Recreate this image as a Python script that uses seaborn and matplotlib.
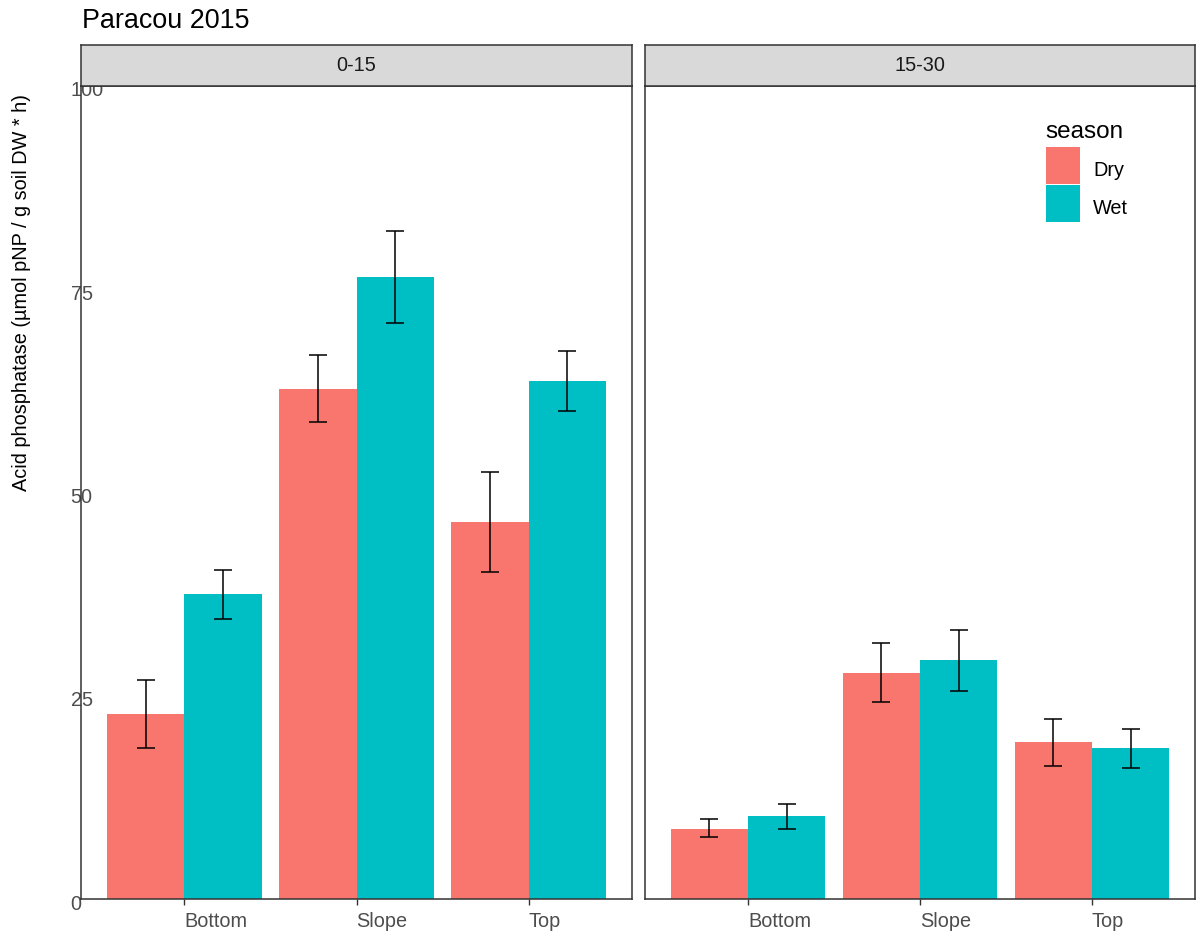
import matplotlib
matplotlib.use("Agg")
import matplotlib.pyplot as plt
import seaborn as sns
import pandas as pd
import numpy as np
from matplotlib.transforms import ScaledTranslation

# ---- data ----
positions = ["Bottom", "Slope", "Top"]
seasons = ["Dry", "Wet"]
depths = ["0-15", "15-30"]
dry_0_15 = [22.8, 62.7, 46.4]
wet_0_15 = [37.5, 76.5, 63.7]
dry_0_15_lo = [18.6, 58.7, 40.2]
dry_0_15_hi = [26.9, 66.9, 52.5]
wet_0_15_lo = [34.4, 70.8, 60.0]
wet_0_15_hi = [40.5, 82.2, 67.4]
dry_15_30 = [8.6, 27.8, 19.3]
wet_15_30 = [10.2, 29.4, 18.6]
dry_15_30_lo = [7.6, 24.2, 16.4]
dry_15_30_hi = [9.8, 31.5, 22.1]
wet_15_30_lo = [8.6, 25.6, 16.1]
wet_15_30_hi = [11.7, 33.1, 20.9]
y_ticks = [0, 25, 50, 75, 100]

rows = []
for depth, dv, wv, dlo, dhi, wlo, whi in [
    ("0-15", dry_0_15, wet_0_15, dry_0_15_lo, dry_0_15_hi, wet_0_15_lo, wet_0_15_hi),
    ("15-30", dry_15_30, wet_15_30, dry_15_30_lo, dry_15_30_hi, wet_15_30_lo, wet_15_30_hi),
]:
    for i, p in enumerate(positions):
        rows.append(dict(depth=depth, position=p, season="Dry", value=dv[i], lo=dlo[i], hi=dhi[i]))
        rows.append(dict(depth=depth, position=p, season="Wet", value=wv[i], lo=wlo[i], hi=whi[i]))
df = pd.DataFrame(rows)

sns.set_theme(style="white")
plt.rcParams["font.family"] = ["Liberation Sans", "DejaVu Sans"]

W, H = 1198, 934
fig = plt.figure(figsize=(W / 100, H / 100), dpi=100)
palette = {"Dry": "#F8766D", "Wet": "#00BFC4"}
FS = 14.3

def px_axes(l, t, r, b):
    return fig.add_axes([l / W, 1 - b / H, (r - l) / W, (b - t) / H])

panels = [(81, 632), (645, 1195)]
top, bottom = 86, 899
strip_top = 45
axes = []
for k, (depth, (l, r)) in enumerate(zip(depths, panels)):
    ax = px_axes(l, top, r, bottom)
    sub = df[df.depth == depth]
    sns.barplot(data=sub, x="position", y="value", hue="season", order=positions,
                hue_order=seasons, palette=palette, width=0.9, errorbar=None,
                saturation=1, ax=ax, legend=(k == 1), linewidth=0)
    # error bars from bar geometry
    for s_i, s in enumerate(seasons):
        cont = ax.containers[s_i]
        for j, patch in enumerate(cont.patches):
            rrow = sub[(sub.season == s) & (sub.position == positions[j])].iloc[0]
            xc = patch.get_x() + patch.get_width() / 2
            ax.errorbar([xc], [rrow.value],
                        yerr=[[rrow.value - rrow.lo], [rrow.hi - rrow.value]],
                        fmt="none", ecolor="black", elinewidth=1.1, capsize=6.5,
                        capthick=1.1, zorder=5)
    ax.set_xlim(-0.6, 2.6)
    ax.set_ylim(0, 100)
    ax.set_xlabel("")
    ax.set_ylabel("")
    for sp in ax.spines.values():
        sp.set_color("#333333")
        sp.set_linewidth(1.1)
        sp.set_visible(True)
    ax.set_xticks(range(len(positions)))
    ax.set_xticklabels(positions, ha="left", color="#4D4D4D", fontsize=FS)
    ax.tick_params(axis="x", length=4, width=1, color="#333333", pad=5.5, bottom=True)
    ax.set_yticks(y_ticks)
    if k == 0:
        ax.set_yticklabels([str(v) for v in y_ticks], ha="left", va="center",
                           color="#4D4D4D", fontsize=FS)
        ax.tick_params(axis="y", length=0, pad=7.4, left=True)
    else:
        ax.set_yticklabels([])
        ax.tick_params(axis="y", length=0)
    ax.grid(False)
    # strip
    sax = px_axes(l, strip_top, r, top)
    sax.set_facecolor("#D9D9D9")
    sax.set_xticks([]); sax.set_yticks([])
    for sp in sax.spines.values():
        sp.set_color("#333333"); sp.set_linewidth(1.1)
    sax.text(0.5, 0.5, depth, ha="center", va="center", fontsize=FS,
             color="#1A1A1A", transform=sax.transAxes)
    axes.append(ax)

for lab in axes[0].get_yticklabels():
    lab.set_transform(lab.get_transform() + ScaledTranslation(0, -0.05, fig.dpi_scale_trans))

leg = axes[1].get_legend()
handles = leg.legend_handles
leg.remove()
leg = fig.legend(handles, seasons, loc="upper left",
                 bbox_to_anchor=(1046 / W, 1 - 147 / H), bbox_transform=fig.transFigure,
                 frameon=False, fontsize=FS,
                 handlelength=1.71, handleheight=2.485, labelspacing=0.05,
                 handletextpad=0.66, borderpad=0, borderaxespad=0)
for h in leg.legend_handles:
    h.set_linewidth(0)
for t in leg.get_texts():
    t.set_color("black")
    t.set_transform(t.get_transform() + ScaledTranslation(0, -0.045, fig.dpi_scale_trans))
fig.text(1045 / W, 1 - 121 / H, "season", fontsize=17.5, ha="left", va="top", color="black")

fig.text(82 / W, 1 - 21 / H, "Paracou 2015", fontsize=19.4, ha="left", va="center", color="black")
fig.text(22 / W, 1 - 293 / H, "Acid phosphatase (µmol pNP / g soil DW * h)", rotation=90,
         fontsize=FS, ha="center", va="center", color="black")

fig.savefig("out.png", dpi=100)
